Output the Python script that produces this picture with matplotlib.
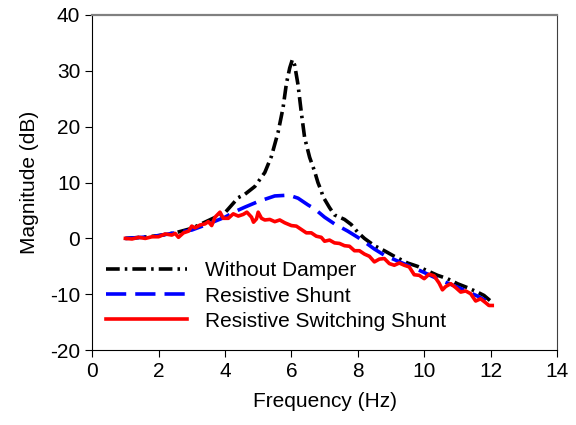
import matplotlib
matplotlib.use("Agg")
from matplotlib import pyplot as plt

plt.rcParams['font.family'] = ['Liberation Sans', 'DejaVu Sans']
plt.rcParams['axes.unicode_minus'] = False

# Without Damper
freq_nd = [1.0, 1.5, 2.0, 2.5, 3.0, 3.5, 4.0, 4.4, 4.6, 4.9, 5.2, 5.4, 5.6, 5.75, 5.85,
           5.95, 6.03, 6.1, 6.2, 6.3, 6.4, 6.55, 6.7, 6.8, 6.9, 6.95, 7.05, 7.15, 7.3,
           7.45, 7.6, 7.8, 8.0, 8.2, 8.5, 8.8, 9.1, 9.5, 9.8, 10.1, 10.4, 10.7, 11.0,
           11.3, 11.6, 11.8, 12.0]
mag_nd = [0.0, 0.2, 0.5, 1.0, 1.8, 3.2, 4.6, 7.3, 7.9, 9.3, 11.8, 14.7, 19.0, 23.4, 27.7,
          30.5, 32.0, 31.0, 27.5, 22.5, 18.0, 14.5, 12.0, 10.0, 8.5, 7.5, 6.5, 5.5, 4.2,
          3.8, 3.4, 2.5, 1.1, 0.0, -1.3, -2.2, -3.2, -4.4, -5.0, -5.8, -6.6, -7.2, -8.1,
          -8.8, -9.6, -10.2, -11.2]

# Resistive Shunt
freq_rs = [1.0, 1.5, 2.0, 2.5, 3.0, 3.5, 4.0, 4.3, 4.6, 5.0, 5.5, 5.8, 6.0, 6.2, 6.5, 6.7,
           7.0, 7.3, 7.7, 8.0, 8.2, 8.5, 8.8, 9.3, 9.7, 10.0, 10.5, 11.0, 11.3, 11.6, 11.85]
mag_rs = [0.0, 0.2, 0.5, 1.0, 1.5, 2.6, 3.8, 4.8, 5.6, 6.6, 7.6, 7.7, 7.6, 7.2, 6.0, 5.3,
          3.8, 2.6, 1.3, 0.2, -0.6, -1.9, -3.0, -4.3, -5.3, -6.1, -7.5, -8.7, -9.5, -10.3, -11.1]

# Resistive Switching Shunt
freq_rss = [1.0, 1.2, 1.4, 1.6, 1.8, 2.0, 2.2, 2.4, 2.5, 2.6, 2.75, 2.9, 3.0, 3.1, 3.25,
            3.4, 3.5, 3.6, 3.7, 3.85, 3.95, 4.1, 4.25, 4.4, 4.55, 4.66, 4.8, 4.86, 4.95,
            5.0, 5.1, 5.2, 5.35, 5.5, 5.65, 5.8, 6.0, 6.15, 6.3, 6.45, 6.6, 6.75, 6.9,
            7.0, 7.15, 7.3, 7.45, 7.6, 7.75, 7.9, 8.05, 8.2, 8.35, 8.5, 8.65, 8.8, 8.95,
            9.1, 9.25, 9.4, 9.55, 9.7, 9.85, 10.0, 10.15, 10.3, 10.45, 10.55, 10.65, 10.8,
            10.95, 11.1, 11.25, 11.4, 11.55, 11.7, 11.85, 11.95, 12.05]
mag_rss = [0.0, -0.1, 0.2, 0.0, 0.3, 0.3, 0.8, 0.6, 0.9, 0.2, 1.0, 1.3, 2.2, 1.9, 2.4,
           2.6, 3.0, 2.3, 3.8, 4.7, 3.6, 3.6, 4.4, 4.0, 4.3, 4.7, 3.8, 2.9, 3.5,
           4.7, 3.6, 3.3, 3.4, 3.0, 3.3, 2.8, 2.3, 2.2, 1.6, 1.0, 1.0, 0.4, 0.2,
           -0.5, -0.3, -0.8, -0.9, -1.3, -1.4, -2.2, -2.2, -2.8, -3.2, -4.2, -3.7, -3.6, -4.5,
           -4.8, -4.4, -4.8, -5.1, -6.5, -6.6, -7.2, -6.4, -6.7, -8.0, -9.2, -8.6, -8.1,
           -8.8, -9.6, -9.4, -9.9, -11.2, -10.8, -11.5, -12.0, -12.0]

fig = plt.figure(figsize=(5.76, 4.25), dpi=100)
ax = fig.add_axes([0.16, 0.176, 0.807, 0.789])

ax.plot(freq_nd, mag_nd, color='black', lw=2.6, linestyle=(0, (3.8, 1.4, 0.7, 1.4)),
        label='Without Damper')
ax.plot(freq_rs, mag_rs, color='blue', lw=2.6, linestyle=(0, (5.6, 2.5)),
        label='Resistive Shunt')
ax.plot(freq_rss, mag_rss, color='red', lw=2.6, label='Resistive Switching Shunt')

ax.set_xlim(0, 14)
ax.set_ylim(-20, 40)
ax.set_xticks(range(0, 15, 2))
ax.set_yticks(range(-20, 41, 10))
ax.tick_params(direction='out', length=5, labelsize=15, top=False, right=False)
ax.set_xlabel('Frequency (Hz)', fontsize=15, labelpad=8)
ax.set_ylabel('Magnitude (dB)', fontsize=15, labelpad=8)

ax.spines['top'].set_color('#808080')
ax.spines['top'].set_linewidth(1.6)
ax.spines['right'].set_color('#404040')

ax.legend(loc='upper left', bbox_to_anchor=(0.012, 0.29), frameon=False, fontsize=15,
          handlelength=3.9, handletextpad=0.85, labelspacing=0.3, borderaxespad=0)

fig.savefig('out.png', dpi=100)
